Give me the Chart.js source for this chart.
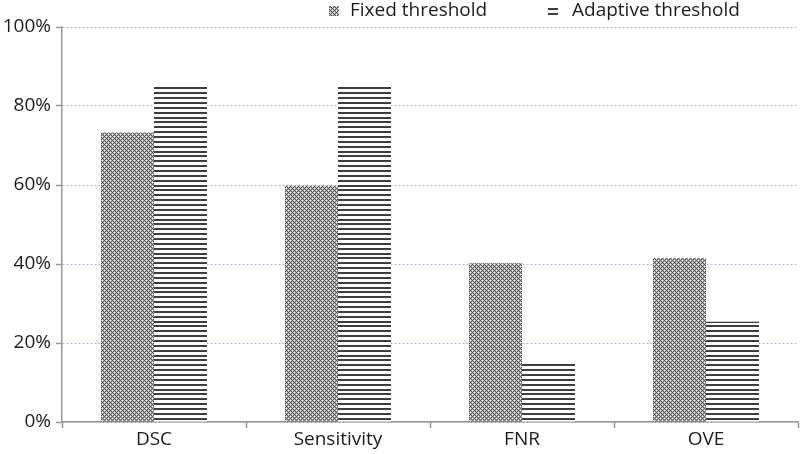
<!DOCTYPE html>
<html>
<head>
<meta charset="utf-8">
<script src="https://cdn.jsdelivr.net/npm/chart.js@4.4.1/dist/chart.umd.min.js"></script>
<style>
  html, body { margin: 0; padding: 0; background: #ffffff; }
  #wrap { width: 800px; height: 454px; position: relative; }
</style>
</head>
<body>
<div id="wrap"><canvas id="c" width="800" height="454"></canvas></div>
<script>
// ---- data ----
const categories = ['DSC', 'Sensitivity', 'FNR', 'OVE'];
const fixedThreshold = [73.3, 59.8, 40.2, 41.5];
const adaptiveThreshold = [85.0, 85.0, 15.2, 25.4];
const seriesNames = ['Fixed threshold', 'Adaptive threshold'];
const yTicks = [0, 20, 40, 60, 80, 100];

// ---- patterns ----
function crossPattern() {
  const c = document.createElement('canvas');
  c.width = 4; c.height = 4;
  const g = c.getContext('2d');
  for (let y = 0; y < 4; y++) {
    for (let x = 0; x < 4; x++) {
      let col = '#b4b4b4';
      if ((x - y + 4) % 4 === 0 || (x + y) % 4 === 0) col = '#555555';
      if ((x === 2 && y === 0) || (x === 0 && y === 2)) col = '#ffffff';
      g.fillStyle = col;
      g.fillRect(x, y, 1, 1);
    }
  }
  return c;
}
function linePattern() {
  const c = document.createElement('canvas');
  c.width = 8; c.height = 34;
  const g = c.getContext('2d');
  g.fillStyle = '#ffffff';
  g.fillRect(0, 0, 8, 34);
  g.fillStyle = '#3e3e3e';
  for (let i = 0; i < 7; i++) {
    const y = Math.round(i * 34 / 7);
    g.fillRect(0, y, 8, 2);
  }
  return c;
}
const ctx = document.getElementById('c').getContext('2d');
const patFixed = ctx.createPattern(crossPattern(), 'repeat');
const patAdaptive = ctx.createPattern(linePattern(), 'repeat');

const FONT = "'Open Sans', 'Liberation Sans', sans-serif";
const TEXT = '#1c1c1c';

const legendPlugin = {
  id: 'customLegend',
  afterDraw(chart) {
    const g = chart.ctx;
    g.save();
    g.fillStyle = patFixed;
    g.fillRect(329, 6, 10, 10);
    g.fillStyle = '#3e3e3e';
    g.fillRect(548, 8, 10, 2);
    g.fillRect(548, 13, 10, 2);
    g.fillStyle = TEXT;
    g.font = '19px ' + FONT;
    g.textBaseline = 'middle';
    g.textAlign = 'left';
    g.fillText(seriesNames[0], 350, 11);
    g.fillText(seriesNames[1], 572, 11);
    g.restore();
  }
};

new Chart(ctx, {
  type: 'bar',
  data: {
    labels: categories,
    datasets: [
      { label: seriesNames[0], data: fixedThreshold, backgroundColor: patFixed, borderWidth: 0 },
      { label: seriesNames[1], data: adaptiveThreshold, backgroundColor: patAdaptive, borderWidth: 0 }
    ]
  },
  options: {
    responsive: false,
    animation: false,
    devicePixelRatio: 1,
    layout: { padding: { top: 27, right: 2, left: 0, bottom: 0 } },
    datasets: { bar: { categoryPercentage: 0.576, barPercentage: 1.0 } },
    plugins: {
      legend: { display: false },
      tooltip: { enabled: false }
    },
    scales: {
      x: {
        offset: true,
        afterFit(s) { s.height = 32; },
        grid: {
          offset: true,
          drawOnChartArea: false,
          drawTicks: true,
          tickLength: 6,
          tickColor: '#999999',
          tickWidth: 1.5
        },
        border: { display: true, color: '#999999', width: 1.5 },
        ticks: {
          color: TEXT,
          font: { family: FONT, size: 19 },
          padding: 0
        }
      },
      y: {
        min: 0, max: 100,
        afterFit(s) { s.width = 62; },
        afterBuildTicks(s) { s.ticks = yTicks.map(v => ({ value: v })); },
        grid: {
          color: '#a3b8cc',
          lineWidth: 1,
          drawTicks: true,
          tickLength: 6,
          tickColor: '#999999',
          tickWidth: 1.5,
          tickBorderDash: []
        },
        border: { display: true, color: '#999999', width: 1.5, dash: [2, 2] },
        ticks: {
          color: TEXT,
          font: { family: FONT, size: 19 },
          padding: 5,
          callback: v => v + '%'
        }
      }
    }
  },
  plugins: [legendPlugin]
});
</script>
</body>
</html>
